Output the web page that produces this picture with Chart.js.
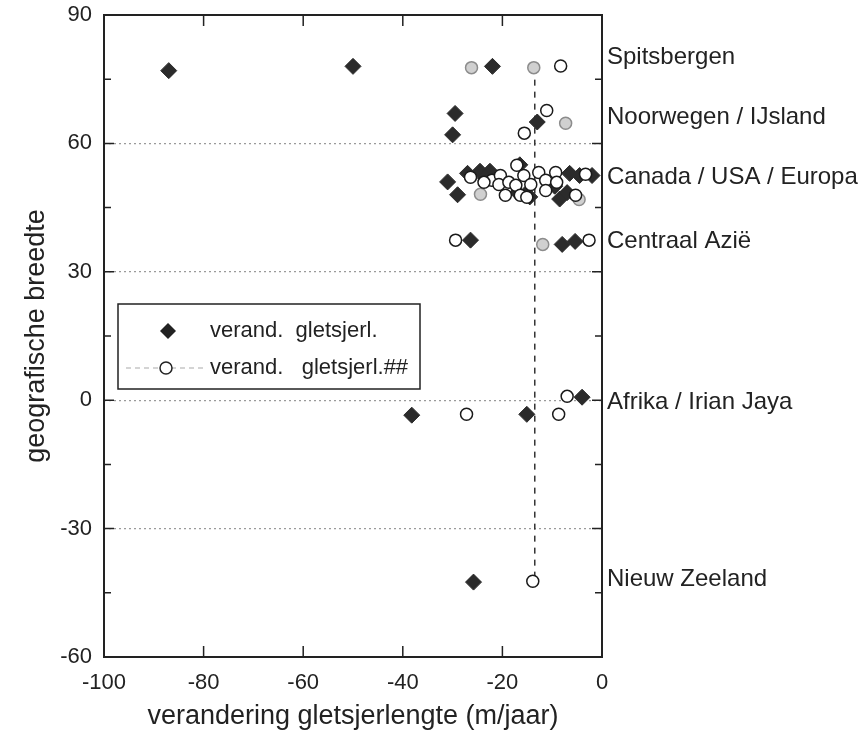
<!DOCTYPE html>
<html>
<head>
<meta charset="utf-8">
<script src="https://cdn.jsdelivr.net/npm/chart.js@4/dist/chart.umd.min.js"></script>
<style>
  html, body { margin: 0; padding: 0; background: #fff; }
  #wrap { width: 864px; height: 733px; }
</style>
</head>
<body>
<div id="wrap"><canvas id="glaciers" width="864" height="733"></canvas></div>
<script>
// verand. gletsjerl. (ruiten): lengteverandering (m/jaar) en breedtegraad
const changeA = [
  -87, -50, -22,
  -29.5, -30, -13,
  -31, -29, -27, -24.5, -22.5, -23.5, -16.5, -17, -15.5, -14.5, -9.5, -8.5, -7, -6.5, -4.5, -2,
  -26.4, -8, -5.4,
  -4, -38.2, -15.1,
  -25.8
];
const latA = [
  77, 78, 78,
  67, 62, 65,
  51, 48, 53, 53.5, 53.5, 52, 55, 48.5, 48, 47.5, 50, 47, 48.5, 53, 52.5, 52.5,
  37.4, 36.4, 37.1,
  0.7, -3.5, -3.3,
  -42.5
];

// verand. gletsjerl.## (open cirkels)
const changeB = [
  -8.3,
  -11.1, -15.6,
  -26.4, -22.1, -20.4, -20.7, -18.7, -17.1, -17.3, -15.7, -14.3, -12.7, -11.3, -9.3, -9.1,
  -11.3, -19.4, -16.4, -15.1, -5.3, -3.3, -23.7,
  -29.4, -2.6,
  -7, -27.2, -8.7,
  -13.9
];
const latB = [
  78.1,
  67.7, 62.4,
  52.1, 51.4, 52.5, 50.4, 50.9, 54.9, 50.2, 52.5, 50.4, 53.2, 51.4, 53.2, 50.9,
  49, 47.9, 47.9, 47.4, 47.9, 52.8, 50.9,
  37.4, 37.4,
  0.9, -3.3, -3.3,
  -42.3
];

// grijze cirkels van dezelfde reeks
const changeBGrey = [-26.2, -13.7, -7.3, -24.4, -4.6, -11.9];
const latBGrey = [77.7, 77.7, 64.7, 48.1, 46.9, 36.4];

// verticale stippellijn
const meanLineX = [-13.5, -13.5];
const meanLineY = [77.7, -42.3];

// gebieden rechts naast de grafiek
const regionNames = ["Spitsbergen", "Noorwegen / IJsland", "Canada / USA / Europa",
  "Centraal Azië", "Afrika / Irian Jaya", "Nieuw Zeeland"];
const regionLat = [80, 66, 52, 37, -0.5, -41.8];

const legendLabels = ["verand.  gletsjerl.", "verand.   gletsjerl.##"];

const FONT = "'Liberation Sans', Arial, Helvetica, sans-serif";
const INK = "#222";

function toPoints(xs, ys) {
  return xs.map((x, i) => ({ x: x, y: ys[i] }));
}

// kader, naar binnen gerichte streepjes, legenda en gebiedsnamen
const frame = {
  id: "frame",
  afterDatasetsDraw(chart) {
    const ctx = chart.ctx;
    const area = chart.chartArea;
    const xs = chart.scales.x;
    const ys = chart.scales.y;

    ctx.save();
    ctx.strokeStyle = INK;
    ctx.lineWidth = 2;
    ctx.strokeRect(area.left, area.top, area.right - area.left, area.bottom - area.top);

    ctx.lineWidth = 1.5;
    for (let v = -45; v < 90; v += 15) {
      const y = ys.getPixelForValue(v);
      const len = v % 30 === 0 ? 10 : 7;
      ctx.beginPath();
      ctx.moveTo(area.left, y);
      ctx.lineTo(area.left + len, y);
      ctx.moveTo(area.right, y);
      ctx.lineTo(area.right - len, y);
      ctx.stroke();
    }
    for (let v = -80; v < 0; v += 20) {
      const x = xs.getPixelForValue(v);
      ctx.beginPath();
      ctx.moveTo(x, area.top);
      ctx.lineTo(x, area.top + 11);
      ctx.moveTo(x, area.bottom);
      ctx.lineTo(x, area.bottom - 11);
      ctx.stroke();
    }

    // gebiedsnamen
    ctx.fillStyle = INK;
    ctx.font = "24px " + FONT;
    ctx.textBaseline = "middle";
    ctx.textAlign = "left";
    regionNames.forEach((name, i) => {
      ctx.fillText(name, area.right + 5, ys.getPixelForValue(regionLat[i]));
    });

    // legenda
    const lx = area.left + 14;
    const ly = area.top + 289;
    ctx.fillStyle = "#fff";
    ctx.fillRect(lx, ly, 302, 85);
    ctx.strokeStyle = INK;
    ctx.lineWidth = 1.5;
    ctx.strokeRect(lx, ly, 302, 85);

    ctx.font = "22px " + FONT;
    ctx.fillStyle = INK;
    const row1 = ly + 27;
    const row2 = ly + 64;
    ctx.fillText(legendLabels[0], lx + 92, row1);
    ctx.fillText(legendLabels[1], lx + 92, row2);

    ctx.beginPath();
    ctx.moveTo(lx + 50, row1 - 8);
    ctx.lineTo(lx + 58, row1);
    ctx.lineTo(lx + 50, row1 + 8);
    ctx.lineTo(lx + 42, row1);
    ctx.closePath();
    ctx.fill();

    ctx.strokeStyle = "#aaa";
    ctx.lineWidth = 1.2;
    ctx.setLineDash([5, 4]);
    ctx.beginPath();
    ctx.moveTo(lx + 8, row2);
    ctx.lineTo(lx + 88, row2);
    ctx.stroke();
    ctx.setLineDash([]);
    ctx.fillStyle = "#fff";
    ctx.strokeStyle = INK;
    ctx.lineWidth = 1.5;
    ctx.beginPath();
    ctx.arc(lx + 48, row2, 6, 0, Math.PI * 2);
    ctx.fill();
    ctx.stroke();

    ctx.restore();
  }
};

new Chart(document.getElementById("glaciers"), {
  type: "scatter",
  data: {
    datasets: [
      {
        label: legendLabels[1],
        data: toPoints(changeB, latB),
        pointStyle: "circle",
        pointRadius: 6,
        pointBorderWidth: 1.5,
        pointBackgroundColor: "#fff",
        pointBorderColor: "#1a1a1a",
        order: 0
      },
      {
        label: legendLabels[1] + " grijs",
        data: toPoints(changeBGrey, latBGrey),
        pointStyle: "circle",
        pointRadius: 6,
        pointBorderWidth: 1.5,
        pointBackgroundColor: "#d0d0d0",
        pointBorderColor: "#8c8c8c",
        order: 1
      },
      {
        label: legendLabels[0],
        data: toPoints(changeA, latA),
        pointStyle: "rectRot",
        pointRadius: 8,
        pointBorderWidth: 1,
        pointBackgroundColor: "#2b2b2b",
        pointBorderColor: "#2b2b2b",
        order: 2
      },
      {
        type: "line",
        label: "gemiddelde",
        data: toPoints(meanLineX, meanLineY),
        borderColor: "#333",
        borderWidth: 1.5,
        borderDash: [6, 6],
        pointRadius: 0,
        order: 3
      }
    ]
  },
  options: {
    responsive: false,
    animation: false,
    events: [],
    layout: { padding: { top: 15, right: 262, left: 0, bottom: 0 } },
    plugins: {
      legend: { display: false },
      tooltip: { enabled: false }
    },
    scales: {
      x: {
        type: "linear",
        min: -100,
        max: 0,
        ticks: {
          stepSize: 20,
          color: INK,
          padding: 13,
          font: { family: FONT, size: 22 }
        },
        grid: { display: false, drawTicks: false },
        border: { display: false },
        title: {
          display: true,
          text: "verandering gletsjerlengte (m/jaar)",
          color: INK,
          font: { family: FONT, size: 27 },
          padding: { top: 0, bottom: 0 }
        },
        afterFit(scale) { scale.height = 76; }
      },
      y: {
        type: "linear",
        min: -60,
        max: 90,
        ticks: {
          stepSize: 30,
          color: INK,
          padding: 12,
          font: { family: FONT, size: 22 }
        },
        grid: {
          drawTicks: false,
          lineWidth: 1.2,
          color(c) {
            const v = c.tick ? c.tick.value : null;
            return v === -60 || v === 90 ? "rgba(0,0,0,0)" : "#9a9a9a";
          }
        },
        border: { display: false, dash: [2, 3] },
        title: {
          display: true,
          text: "geografische breedte",
          color: INK,
          font: { family: FONT, size: 27 },
          padding: { top: 20, bottom: 0 }
        },
        afterFit(scale) {
          scale.width = 104;
          scale.paddingTop = 0;
          scale.paddingBottom = 0;
        }
      }
    }
  },
  plugins: [frame]
});
</script>
</body>
</html>
